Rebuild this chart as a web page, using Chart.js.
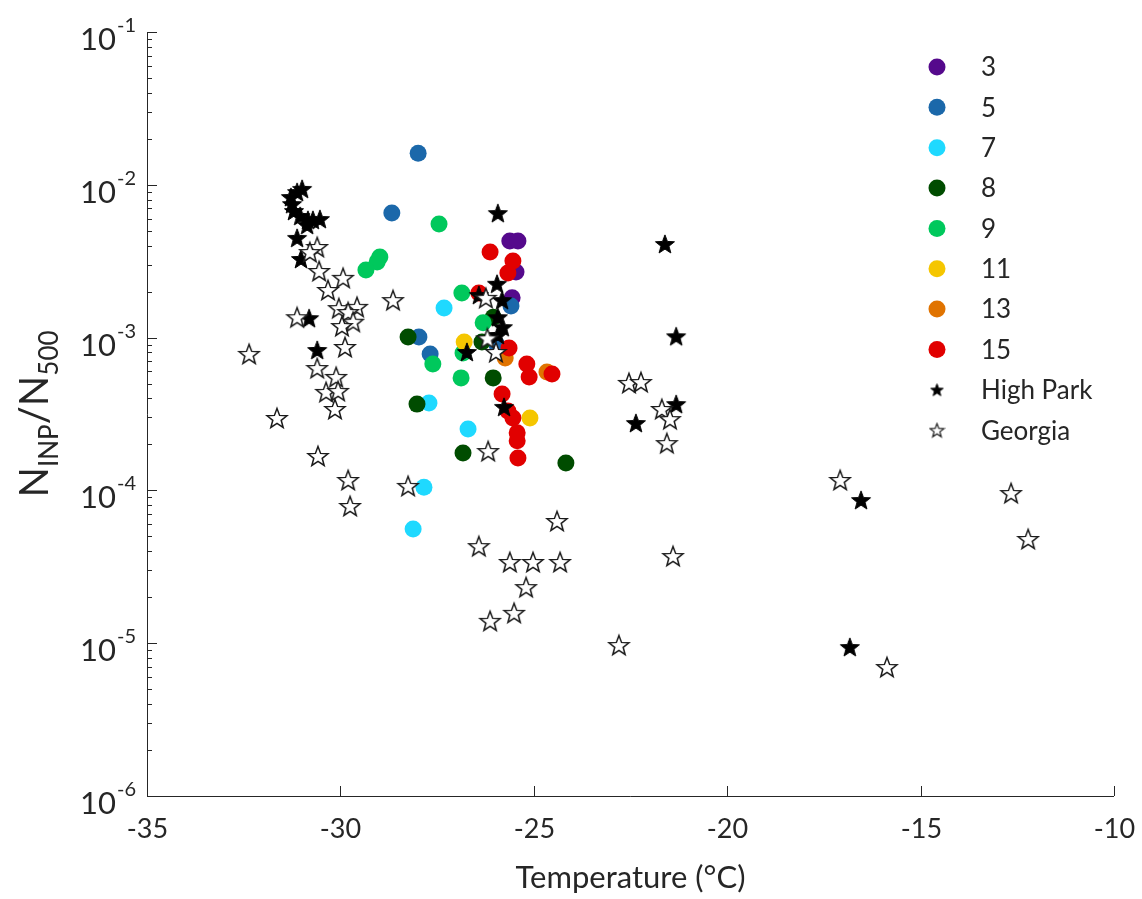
<!DOCTYPE html>
<html>
<head>
<meta charset="utf-8">
<script src="https://cdn.jsdelivr.net/npm/chart.js@4.4.0/dist/chart.umd.min.js"></script>
<style>
  html, body { margin: 0; padding: 0; background: #ffffff; }
  #wrap { width: 1142px; height: 899px; position: relative; }
</style>
</head>
<body>
<div id="wrap"><canvas id="c" width="1142" height="899"></canvas></div>
<script>
// ---------- DATA (temperature °C, N_INP/N_500) ----------
const s3T = [-25.62, -25.41, -25.46, -25.56];
const s3V = [4.29e-3, 4.29e-3, 2.69e-3, 1.82e-3];

const s5T = [-27.99, -28.67, -27.97, -27.68, -25.59, -25.95];
const s5V = [1.61e-2, 6.53e-3, 1.01e-3, 7.82e-4, 1.61e-3, 8.95e-4];

const s7T = [-27.32, -27.71, -26.70, -27.84, -28.12];
const s7V = [1.56e-3, 3.73e-4, 2.52e-4, 1.05e-4, 5.58e-5];

const s8T = [-28.25, -28.02, -26.83, -26.05, -24.17, -26.34, -26.05];
const s8V = [1.01e-3, 3.67e-4, 1.76e-4, 5.45e-4, 1.51e-4, 9.35e-4, 1.36e-3];

const s9T = [-28.98, -29.05, -29.34, -27.45, -26.86, -26.31, -27.61, -26.83, -26.88];
const s9V = [3.37e-3, 3.13e-3, 2.77e-3, 5.53e-3, 1.96e-3, 1.25e-3, 6.71e-4, 7.93e-4, 5.45e-4];

const s11T = [-26.80, -25.10];
const s11V = [9.35e-4, 2.98e-4];

const s13T = [-25.74, -24.66];
const s13V = [7.35e-4, 5.96e-4];

const s15T = [-26.13, -25.54, -25.67, -26.42, -25.64, -25.18, -25.12, -24.53, -25.82, -25.67, -25.54, -25.43, -25.43, -25.41];
const s15V = [3.63e-3, 3.17e-3, 2.65e-3, 1.96e-3, 8.55e-4, 6.71e-4, 5.53e-4, 5.78e-4, 4.27e-4, 3.31e-4, 2.98e-4, 2.38e-4, 2.11e-4, 1.63e-4];

const hpT = [-31.12, -30.99, -31.28, -31.25, -31.20, -31.04, -30.84, -30.71, -30.53, -30.86, -31.12, -31.02, -30.81, -30.60,
             -25.93, -25.95, -26.42, -25.82, -25.93, -25.80, -25.93, -26.73, -25.77,
             -21.61, -21.32, -21.32, -22.36, -16.54, -16.83];
const hpV = [8.97e-3, 9.40e-3, 8.32e-3, 7.48e-3, 6.74e-3, 6.25e-3, 5.89e-3, 5.89e-3, 5.97e-3, 5.46e-3, 4.49e-3, 3.27e-3, 1.34e-3, 8.30e-4,
             6.53e-3, 2.25e-3, 1.90e-3, 1.76e-3, 1.36e-3, 1.17e-3, 1.04e-3, 8.05e-4, 3.52e-4,
             4.10e-3, 1.02e-3, 3.67e-4, 2.76e-4, 8.65e-5, 9.44e-6];

const gaT = [-32.36, -31.64, -31.12, -30.60, -30.79, -30.55, -29.93, -30.32, -30.04, -29.57, -29.80, -29.67, -29.96, -28.64,
             -29.88, -30.60, -30.11, -30.37, -30.06, -30.14, -30.58, -29.80, -29.75, -28.25,
             -26.24, -25.98, -26.20, -26.18, -26.42, -25.62, -25.02, -24.32, -24.40, -25.20, -25.51, -26.13, -22.80,
             -22.54, -22.23, -21.69, -21.48, -21.56, -21.40, -17.08, -15.87, -12.66, -12.22];
const gaV = [7.82e-4, 2.98e-4, 1.36e-3, 3.92e-3, 3.63e-3, 2.73e-3, 2.46e-3, 2.05e-3, 1.56e-3, 1.59e-3, 1.47e-3, 1.27e-3, 1.19e-3, 1.76e-3,
             8.68e-4, 6.32e-4, 5.53e-4, 4.41e-4, 4.48e-4, 3.41e-4, 1.68e-4, 1.17e-4, 7.91e-5, 1.07e-4,
             1.82e-3, 8.05e-4, 9.9e-4, 1.81e-4, 4.32e-5, 3.40e-5, 3.40e-5, 3.40e-5, 6.31e-5, 2.33e-5, 1.58e-5, 1.40e-5, 9.73e-6,
             5.05e-4, 5.12e-4, 3.41e-4, 2.93e-4, 2.04e-4, 3.72e-5, 1.17e-4, 6.98e-6, 9.61e-5, 4.81e-5];

const xTicks = [-35, -30, -25, -20, -15, -10];
const yExponents = [-1, -2, -3, -4, -5, -6];
const seriesLabels = ['3', '5', '7', '8', '9', '11', '13', '15', 'High Park', 'Georgia'];
const xTitle = 'Temperature (°C)';

// ---------- STYLE ----------
const FONT = 'Lato, "Open Sans", "DejaVu Sans", sans-serif';
const AXIS = '#262626';
const colors = ['#55098c', '#1b68aa', '#1fd9ff', '#004c00', '#00c85c', '#f5c600', '#e07300', '#e10000'];

function makeStar(size, fill, stroke, lw) {
  const c = document.createElement('canvas');
  c.width = size; c.height = size;
  const ctx = c.getContext('2d');
  const cx = size / 2, cy = size / 2 + size * 0.04;
  const R = size / 2 - lw, r = R * 0.42;
  ctx.beginPath();
  for (let i = 0; i < 10; i++) {
    const ang = -Math.PI / 2 + i * Math.PI / 5;
    const rad = i % 2 === 0 ? R : r;
    const px = cx + rad * Math.cos(ang), py = cy + rad * Math.sin(ang);
    if (i === 0) ctx.moveTo(px, py); else ctx.lineTo(px, py);
  }
  ctx.closePath();
  ctx.fillStyle = fill; ctx.fill();
  ctx.lineWidth = lw; ctx.strokeStyle = stroke; ctx.lineJoin = 'miter'; ctx.stroke();
  return c;
}
const starFilled = makeStar(22, '#000000', '#000000', 1);
const starOpen = makeStar(24, '#ffffff', '#1a1a1a', 1.5);
const starFilledLeg = makeStar(15, '#000000', '#000000', 1);
const starOpenLeg = makeStar(17, '#ffffff', '#1a1a1a', 1.2);

const pairs = (T, V) => T.map((t, i) => ({ x: t, y: V[i] }));
const circleSets = [[s3T, s3V], [s5T, s5V], [s7T, s7V], [s8T, s8V], [s9T, s9V], [s11T, s11V], [s13T, s13V], [s15T, s15V]];

const datasets = circleSets.map((s, i) => ({
  label: seriesLabels[i],
  data: pairs(s[0], s[1]),
  backgroundColor: colors[i],
  borderWidth: 0,
  pointRadius: 8.5,
  pointHoverRadius: 8.5,
  pointStyle: 'circle',
  order: 10 - i
}));
datasets.push({
  label: seriesLabels[8], data: pairs(hpT, hpV),
  pointStyle: starFilled, pointRadius: 11, backgroundColor: '#000', order: 1
});
datasets.push({
  label: seriesLabels[9], data: pairs(gaT, gaV),
  pointStyle: starOpen, pointRadius: 12, backgroundColor: '#fff', order: 0
});

const decor = {
  id: 'decor',
  afterDraw(chart) {
    const ctx = chart.ctx;
    const xs = chart.scales.x, ys = chart.scales.y;
    const L = chart.chartArea.left, R = chart.chartArea.right, T = chart.chartArea.top, B = chart.chartArea.bottom;
    ctx.save();
    ctx.strokeStyle = AXIS; ctx.lineWidth = 1;
    ctx.beginPath();
    ctx.moveTo(L + 0.5, T); ctx.lineTo(L + 0.5, B + 0.5); ctx.lineTo(R, B + 0.5);
    ctx.stroke();
    // x ticks
    ctx.fillStyle = AXIS;
    ctx.font = '27px ' + FONT;
    ctx.textAlign = 'center'; ctx.textBaseline = 'alphabetic';
    xTicks.forEach(t => {
      const px = Math.round(xs.getPixelForValue(t)) + 0.5;
      ctx.beginPath(); ctx.moveTo(px, B); ctx.lineTo(px, B - 10); ctx.stroke();
      ctx.fillText(String(t), px, B + 42);
    });
    // y ticks (major + minor)
    yExponents.forEach(e => {
      const py = Math.round(ys.getPixelForValue(Math.pow(10, e))) + 0.5;
      ctx.beginPath(); ctx.moveTo(L, py); ctx.lineTo(L + 10, py); ctx.stroke();
      if (e > -6) {
        for (let k = 2; k <= 9; k++) {
          const my = Math.round(ys.getPixelForValue(k * Math.pow(10, e - 1))) + 0.5;
          ctx.beginPath(); ctx.moveTo(L, my); ctx.lineTo(L + 5, my); ctx.stroke();
        }
      }
      // label 10^e
      const sup = String(e);
      ctx.font = '20px ' + FONT;
      const sw = ctx.measureText(sup).width;
      ctx.textAlign = 'right';
      ctx.fillText(sup, L - 11, py - 1);
      ctx.font = '31px ' + FONT;
      ctx.fillText('10', L - 11 - sw - 1, py + 17);
    });
    // x title
    ctx.textAlign = 'center';
    ctx.font = '31px ' + FONT;
    ctx.fillText(xTitle, (L + R) / 2, B + 92);
    // y title N_INP/N_500 rotated
    ctx.save();
    ctx.translate(48, (T + B) / 2);
    ctx.rotate(-Math.PI / 2);
    const parts = [['N', 40, 0], ['INP', 26, 10], ['/N', 40, 0], ['500', 26, 10]];
    let total = 0;
    parts.forEach(p => { ctx.font = p[1] + 'px ' + FONT; total += ctx.measureText(p[0]).width; });
    let cx = -total / 2;
    ctx.textAlign = 'left';
    parts.forEach(p => {
      ctx.font = p[1] + 'px ' + FONT;
      ctx.fillText(p[0], cx, p[2]);
      cx += ctx.measureText(p[0]).width;
    });
    ctx.restore();
    // legend
    const lx = 937, tx = 981;
    chart.data.datasets.forEach((ds, i) => {
      const ly = 67 + i * 40.35;
      if (i < 8) {
        ctx.beginPath(); ctx.arc(lx, ly, 8.5, 0, Math.PI * 2);
        ctx.fillStyle = ds.backgroundColor; ctx.fill();
      } else {
        const img = i === 8 ? starFilledLeg : starOpenLeg;
        ctx.drawImage(img, lx - img.width / 2, ly - img.height / 2);
      }
      ctx.fillStyle = AXIS;
      ctx.font = '26px ' + FONT;
      ctx.textAlign = 'left'; ctx.textBaseline = 'middle';
      ctx.fillText(ds.label, tx, ly + 1);
      ctx.textBaseline = 'alphabetic';
    });
    ctx.restore();
  }
};

new Chart(document.getElementById('c'), {
  type: 'scatter',
  data: { datasets },
  options: {
    responsive: false,
    animation: false,
    events: [],
    layout: { padding: { left: 147, right: 28, top: 32, bottom: 103 } },
    plugins: { legend: { display: false }, tooltip: { enabled: false } },
    scales: {
      x: { type: 'linear', min: -35, max: -10, display: false },
      y: { type: 'logarithmic', min: 1e-6, max: 1e-1, display: false }
    },
    clip: false
  },
  plugins: [decor]
});
</script>
</body>
</html>
